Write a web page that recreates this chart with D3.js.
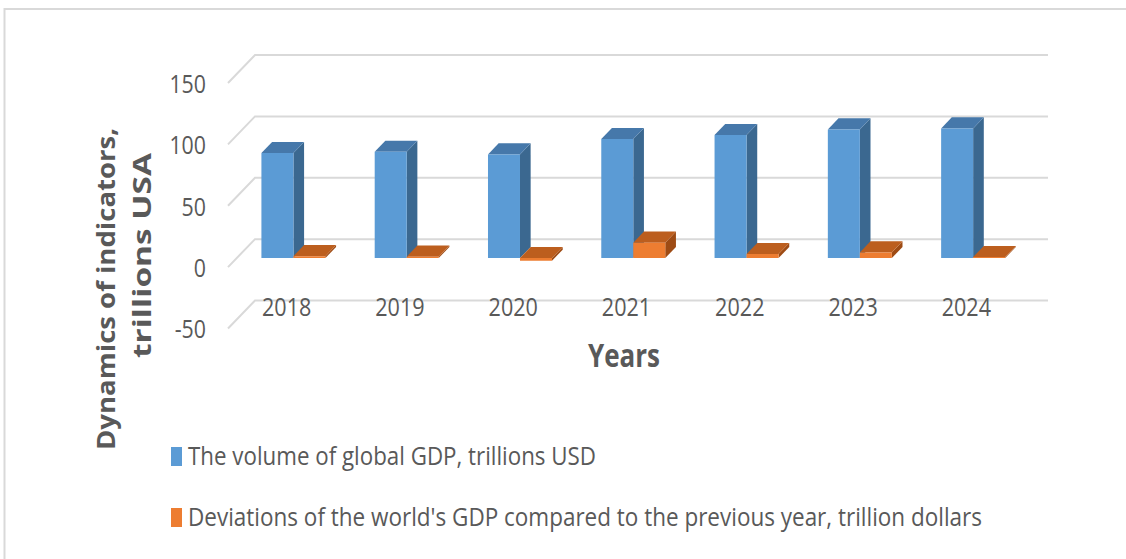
<!DOCTYPE html>
<html>
<head>
<meta charset="utf-8">
<script src="https://cdn.jsdelivr.net/npm/d3@7/dist/d3.min.js"></script>
<style>
  html, body { margin: 0; padding: 0; background: #fff; }
  svg { display: block; }
  text { font-family: "Open Sans", "Liberation Sans", sans-serif; fill: #595959; }
</style>
</head>
<body>
<svg id="chart" width="1126" height="559"></svg>
<script>
// ---- data ----
const years = ["2018", "2019", "2020", "2021", "2022", "2023", "2024"];
const gdpVolume = [85.5, 86.6, 84.4, 96.9, 100.2, 104.8, 105.6];
const gdpDeviation = [1.5, 1.1, -2.2, 12.5, 3.3, 4.6, 0.8];
const yTickValues = [-50, 0, 50, 100, 150];
const seriesNames = [
  "The volume of global GDP, trillions USD",
  "Deviations of the world's GDP compared to the previous year, trillion dollars"
];
const yTitleLines = ["Dynamics of indicators,", "trillions USA"];
const xTitle = "Years";

// ---- styling ----
const faceColors = [
  { front: "#5B9BD5", side: "#3B6890", top: "#4678AA" },
  { front: "#ED7D31", side: "#9E4B14", top: "#BC5E1E" }
];
const legendColors = ["#5B9BD5", "#ED7D31"];

const svg = d3.select("#chart");

// border
svg.append("rect").attr("x", 4.5).attr("y", 9).attr("width", 1200).attr("height", 600)
  .attr("fill", "none").attr("stroke", "#D9D9D9").attr("stroke-width", 2);

// ---- scales (front plane) ----
const x0 = d3.scaleBand().domain(years).range([228, 1021]).paddingInner(0.435).paddingOuter(0.2175);
const x1 = d3.scaleBand().domain([0, 1]).range([0, x0.bandwidth()]);
const y = d3.scaleLinear().domain([-50, 150]).range([328.5, 83]);
const DX = 27, DY = -28;      // depth vector front->back
const zFront = 0.325, zBack = 0.72;
const proj = (px, v, z) => [px + z * DX, y(v) + z * DY];
const xLeft = x0.range()[0], xRight = x0.range()[1];

// ---- gridlines: back wall + left side wall ----
const grid = svg.append("g").attr("stroke", "#D9D9D9").attr("stroke-width", 2).attr("fill", "none");
yTickValues.forEach(v => {
  const a = proj(xLeft, v, 0), b = proj(xLeft, v, 1), c = proj(xRight, v, 1);
  grid.append("path").attr("d", `M${a[0]},${a[1]}L${b[0]},${b[1]}L${c[0]},${c[1]}`);
});

// ---- 3D bars ----
const bars = svg.append("g");
const poly = pts => "M" + pts.map(p => p.join(",")).join("L") + "Z";
years.forEach((yr, i) => {
  [gdpVolume[i], gdpDeviation[i]].forEach((val, s) => {
    const xl = x0(yr) + x1(s), xr = xl + x1.bandwidth();
    const top = Math.max(0, val), bot = Math.min(0, val);
    const col = faceColors[s];
    bars.append("path").attr("fill", col.side).attr("d", poly([
      proj(xr, bot, zFront), proj(xr, bot, zBack), proj(xr, top, zBack), proj(xr, top, zFront)
    ]));
    bars.append("path").attr("fill", col.top).attr("d", poly([
      proj(xl, top, zFront), proj(xl, top, zBack), proj(xr, top, zBack), proj(xr, top, zFront)
    ]));
    bars.append("path").attr("fill", col.front).attr("d", poly([
      proj(xl, bot, zFront), proj(xl, top, zFront), proj(xr, top, zFront), proj(xr, bot, zFront)
    ]));
  });
});

function squash(sel, f) {
  sel.each(function () {
    const w = this.getComputedTextLength();
    d3.select(this).attr("textLength", w * f).attr("lengthAdjust", "spacingAndGlyphs");
  });
}

// ---- y axis (labels on front plane) ----
const yAxis = svg.append("g").attr("transform", "translate(206,0)")
  .call(d3.axisLeft(y).tickValues(yTickValues).tickSize(0).tickPadding(0).tickFormat(d => String(d)));
yAxis.select(".domain").remove();
yAxis.selectAll("text").attr("font-size", 26).attr("fill", "#595959").attr("dy", "0.36em")
  .style("font-family", '"Open Sans", sans-serif');
squash(yAxis.selectAll("text"), 0.82);

// ---- x axis labels ----
const xLab = d3.scaleBand().domain(years).range([xLeft + 2, xRight + 2]);
const xAxis = svg.append("g").attr("transform", "translate(0,307)")
  .call(d3.axisBottom(xLab).tickSize(0).tickPadding(0));
xAxis.select(".domain").remove();
xAxis.selectAll("text").attr("font-size", 26).attr("fill", "#595959").attr("y", 0).attr("dy", "0.36em")
  .style("font-family", '"Open Sans", sans-serif');
squash(xAxis.selectAll("text"), 0.83);

// ---- axis titles ----
svg.append("text").attr("x", 624).attr("y", 367).attr("text-anchor", "middle")
  .attr("font-size", 32).attr("font-weight", "bold")
  .attr("textLength", 72).attr("lengthAdjust", "spacingAndGlyphs").text(xTitle);

const yTitlePos = [[106, 289, 322], [142, 255.5, 205]];
yTitleLines.forEach((t, i) => {
  const [cx, cy, len] = yTitlePos[i];
  svg.append("text")
    .attr("transform", `translate(${cx},${cy}) scale(0.9,1) rotate(-90)`)
    .attr("text-anchor", "middle").attr("dominant-baseline", "central")
    .attr("font-size", 28).attr("font-weight", "bold")
    .attr("textLength", len).attr("lengthAdjust", "spacingAndGlyphs").text(t);
});

// ---- legend ----
const legendY = [447, 508];
const legendLen = [408, 794];
seriesNames.forEach((name, i) => {
  svg.append("rect").attr("x", 171).attr("y", legendY[i]).attr("width", 11).attr("height", 19)
    .attr("fill", legendColors[i]);
  svg.append("text").attr("x", 188).attr("y", legendY[i] + 18).attr("font-size", 25)
    .attr("textLength", legendLen[i]).attr("lengthAdjust", "spacingAndGlyphs").text(name);
});
</script>
</body>
</html>
